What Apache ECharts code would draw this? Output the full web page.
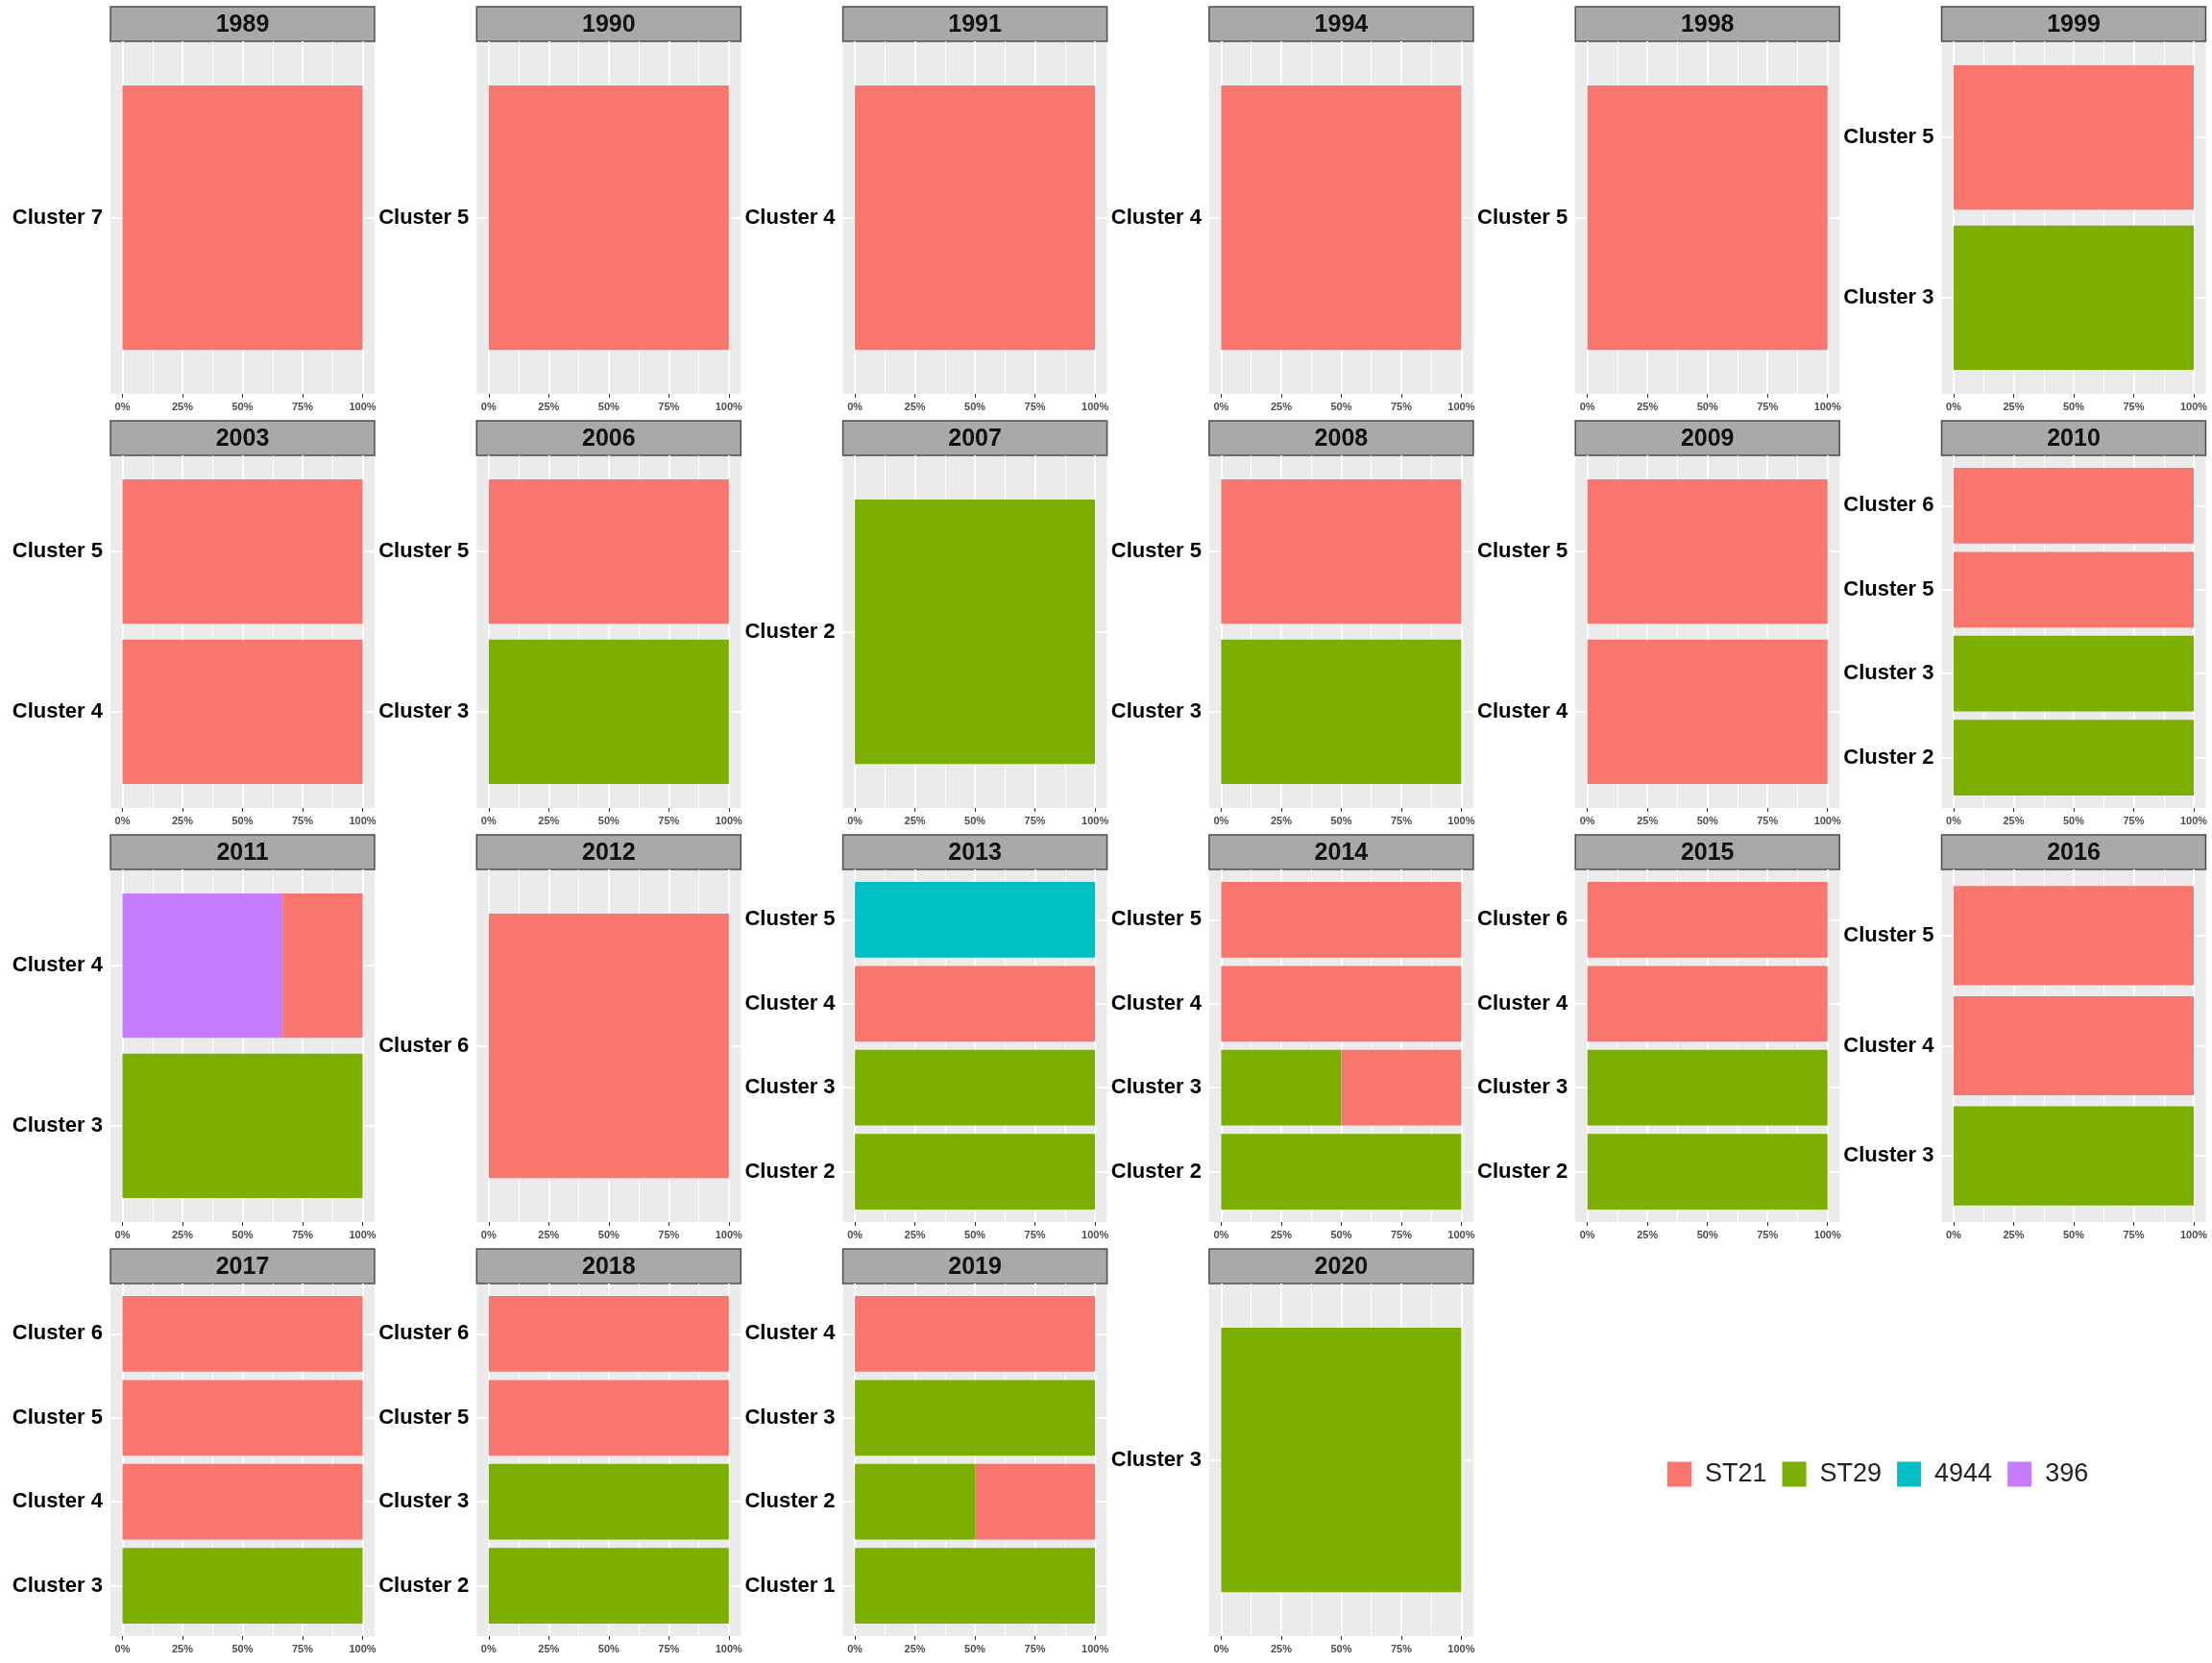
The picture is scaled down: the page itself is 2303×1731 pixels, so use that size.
<!DOCTYPE html>
<html>
<head>
<meta charset="utf-8">
<script src="https://cdn.jsdelivr.net/npm/echarts@6/dist/echarts.min.js"></script>
<style>
  html, body { margin: 0; background: #fff; }
  #chart { width: 2303px; height: 1731px; }
</style>
</head>
<body>
<div id="chart"></div>
<script>
// one panel per year
const years = ['1989', '1990', '1991', '1994', '1998', '1999', '2003', '2006', '2007', '2008', '2009',
  '2010', '2011', '2012', '2013', '2014', '2015', '2016', '2017', '2018', '2019', '2020'];
// cluster numbers in each panel, bottom to top
const clusterNums = [[7], [5], [4], [4], [5], [3, 5], [4, 5], [3, 5], [2], [3, 5], [4, 5],
  [2, 3, 5, 6], [3, 4], [6], [2, 3, 4, 5], [2, 3, 4, 5], [2, 3, 4, 6], [3, 4, 5], [3, 4, 5, 6], [2, 3, 5, 6], [1, 2, 3, 4], [3]];
// share (%) of each ST inside each cluster, same order as clusterNums
const st21 = [[100], [100], [100], [100], [100], [0, 100], [100, 100], [0, 100], [0], [0, 100], [100, 100],
  [0, 0, 100, 100], [0, 33.3], [100], [0, 0, 100, 0], [0, 50, 100, 100], [0, 0, 100, 100], [0, 100, 100], [0, 100, 100, 100], [0, 0, 100, 100], [0, 50, 0, 100], [0]];
const st29 = [[0], [0], [0], [0], [0], [100, 0], [0, 0], [100, 0], [100], [100, 0], [0, 0],
  [100, 100, 0, 0], [100, 0], [0], [100, 100, 0, 0], [100, 50, 0, 0], [100, 100, 0, 0], [100, 0, 0], [100, 0, 0, 0], [100, 100, 0, 0], [100, 50, 100, 0], [100]];
const st4944 = [[0], [0], [0], [0], [0], [0, 0], [0, 0], [0, 0], [0], [0, 0], [0, 0],
  [0, 0, 0, 0], [0, 0], [0], [0, 0, 0, 100], [0, 0, 0, 0], [0, 0, 0, 0], [0, 0, 0], [0, 0, 0, 0], [0, 0, 0, 0], [0, 0, 0, 0], [0]];
const st396 = [[0], [0], [0], [0], [0], [0, 0], [0, 0], [0, 0], [0], [0, 0], [0, 0],
  [0, 0, 0, 0], [0, 66.7], [0], [0, 0, 0, 0], [0, 0, 0, 0], [0, 0, 0, 0], [0, 0, 0], [0, 0, 0, 0], [0, 0, 0, 0], [0, 0, 0, 0], [0]];
const xTicks = [0, 25, 50, 75, 100];
const xMinor = [12.5, 37.5, 62.5, 87.5];
const legendNames = ['ST21', 'ST29', '4944', '396'];

// stacked left -> right like ggplot position_fill
const stacks = [
  { name: '396', vals: st396, color: '#C77CFF' },
  { name: '4944', vals: st4944, color: '#00BFC4' },
  { name: 'ST29', vals: st29, color: '#7CAE00' },
  { name: 'ST21', vals: st21, color: '#F8766D' }
];

const FONT = 'Liberation Sans, Arial, sans-serif';
const PANEL_W = 275, PANEL_H = 367, STRIP_H = 36;
const X0 = 115, Y0 = 43, DX = 381.3, DY = 431;

const chart = echarts.init(document.getElementById('chart'), null, { renderer: 'canvas' });

function renderSeg(params, api) {
  const a = api.coord([api.value(0), api.value(2) + 0.45]);
  const b = api.coord([api.value(1), api.value(2) - 0.45]);
  return {
    type: 'rect',
    shape: { x: a[0], y: a[1], width: b[0] - a[0], height: b[1] - a[1] },
    style: { fill: api.visual('color') }
  };
}

const grids = [], xAxes = [], yAxes = [], series = [], graphics = [];

years.forEach((yr, p) => {
  const col = p % 6, row = Math.floor(p / 6);
  const left = X0 + col * DX, top = Y0 + row * DY;
  const n = clusterNums[p].length;
  const names = clusterNums[p].map(c => 'Cluster ' + c);
  const yVals = names.map((_, j) => j + 1);

  grids.push({ left: left, top: top, width: PANEL_W, height: PANEL_H, show: true,
    backgroundColor: '#EBEBEB', borderWidth: 0 });
  xAxes.push({
    type: 'value', gridIndex: p, min: -5, max: 105,
    axisLine: { show: false },
    splitLine: { show: false },
    axisTick: { show: true, length: 4, customValues: xTicks, lineStyle: { color: '#333', width: 1 } },
    axisLabel: { customValues: xTicks, formatter: v => v + '%', margin: 8,
      fontSize: 11, fontWeight: 'bold', color: '#4D4D4D', fontFamily: FONT }
  });
  yAxes.push({
    type: 'value', gridIndex: p, min: 0.4, max: n + 0.6,
    axisLine: { show: false },
    splitLine: { show: false },
    axisTick: { show: true, length: 4, customValues: yVals, lineStyle: { color: '#333', width: 1 } },
    axisLabel: { customValues: yVals, formatter: v => names[Math.round(v) - 1], margin: 8,
      fontSize: 22, fontWeight: 'bold', color: '#000', fontFamily: FONT }
  });

  // white panel grid lines
  const lines = [];
  xTicks.forEach(v => lines.push({ xAxis: v, lineStyle: { color: '#fff', width: 2, type: 'solid' } }));
  xMinor.forEach(v => lines.push({ xAxis: v, lineStyle: { color: '#fff', width: 1, type: 'solid' } }));
  yVals.forEach(v => lines.push({ yAxis: v, lineStyle: { color: '#fff', width: 2, type: 'solid' } }));
  series.push({
    type: 'line', name: 'grid' + p, xAxisIndex: p, yAxisIndex: p, data: [], silent: true, z: 1,
    markLine: { silent: true, symbol: 'none', z: 1, animation: false, label: { show: false }, data: lines }
  });

  const cum = new Array(n).fill(0);
  stacks.forEach(st => {
    const data = [];
    st.vals[p].forEach((v, j) => {
      if (v > 0) {
        data.push([cum[j], cum[j] + v, j + 1]);
        cum[j] += v;
      }
    });
    series.push({
      type: 'custom', name: st.name, xAxisIndex: p, yAxisIndex: p, z: 3,
      itemStyle: { color: st.color },
      renderItem: renderSeg,
      encode: { x: [0, 1], y: 2 },
      data: data
    });
  });

  // facet strip
  graphics.push({
    type: 'rect', silent: true,
    shape: { x: left, y: top - STRIP_H, width: PANEL_W, height: STRIP_H },
    style: { fill: '#A9A9A9', stroke: '#4D4D4D', lineWidth: 1.5 }
  });
  graphics.push({
    type: 'text', silent: true,
    style: { text: yr, x: left + PANEL_W / 2, y: top - STRIP_H / 2 + 1, align: 'center', verticalAlign: 'middle',
      fontSize: 25, fontWeight: 'bold', fontFamily: FONT, fill: '#111' }
  });
});

const option = {
  animation: false,
  backgroundColor: '#fff',
  grid: grids,
  xAxis: xAxes,
  yAxis: yAxes,
  series: series,
  graphic: graphics,
  legend: {
    data: legendNames,
    left: 1731, top: 1516,
    icon: 'rect', itemWidth: 25, itemHeight: 26, itemGap: 16,
    textStyle: { fontSize: 27, color: '#222', fontFamily: FONT, padding: [0, 0, 0, 9] }
  }
};
option && chart.setOption(option);
</script>
</body>
</html>
